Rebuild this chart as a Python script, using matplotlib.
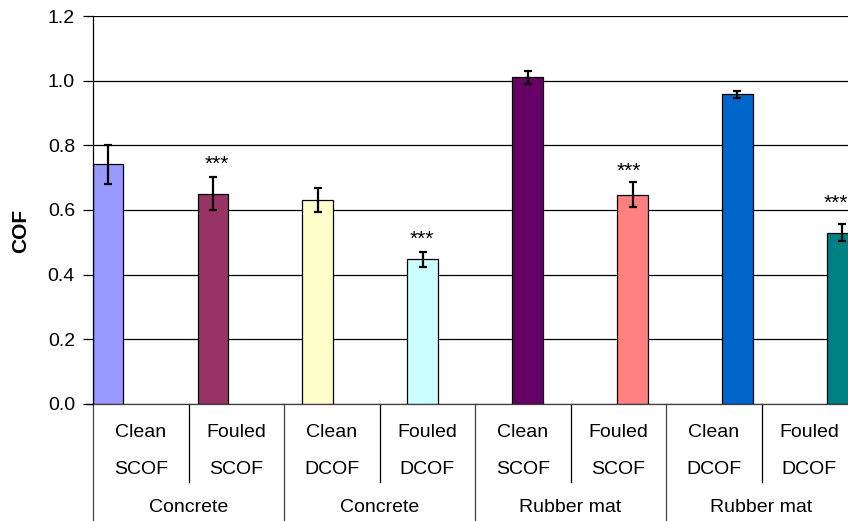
import numpy as np
import matplotlib.pyplot as plt
from matplotlib.transforms import blended_transform_factory

plt.rcdefaults()
plt.rc('font', family=['Liberation Sans', 'DejaVu Sans'], size=14)

# DATA
conditions = ['Clean', 'Fouled', 'Clean', 'Fouled', 'Clean', 'Fouled', 'Clean', 'Fouled']
measures = ['SCOF', 'SCOF', 'DCOF', 'DCOF', 'SCOF', 'SCOF', 'DCOF', 'DCOF']
surfaces = ['Concrete', 'Concrete', 'Rubber mat', 'Rubber mat']
cof = [0.741, 0.651, 0.631, 0.447, 1.011, 0.648, 0.958, 0.530]
cof_err = [0.060, 0.052, 0.038, 0.023, 0.021, 0.040, 0.011, 0.027]
signif = ['', '***', '', '***', '', '***', '', '***']
signif_y = [0, 0.742, 0, 0.509, 0, 0.721, 0, 0.622]
colors = ['#9999FF', '#993366', '#FFFFCC', '#CCFFFF',
          '#660066', '#FF8080', '#0066CC', '#008080']

# FIGURE
W, H = 848, 521
fig = plt.figure(figsize=[W/100, H/100], dpi=100)
ax_l, ax_r, ax_b, ax_t = 93, 857, 403.7, 16.3
ax = fig.add_axes([ax_l/W, 1-ax_b/H, (ax_r-ax_l)/W, (ax_b-ax_t)/H])

# bars sit on their own pitch, not on the label cells
bar_pitch = 104.9
first_center = 108
x = np.arange(len(cof))
ax.set_xlim((ax_l-first_center)/bar_pitch, (ax_r-first_center)/bar_pitch)
ax.set_ylim(0, 1.2)

ax.set_axisbelow(True)
ax.yaxis.grid(True, color='black', linewidth=0.9)
ax.bar(x, cof, width=30.7/bar_pitch, color=colors, edgecolor='black', linewidth=0.9,
       yerr=cof_err, error_kw=dict(ecolor='black', elinewidth=1.6, capsize=3, capthick=1.6))
# stars drift a little left of the bars going right
star_dx = [0, 0.035, 0, -0.008, 0, -0.032, 0, -0.065]
for xi, s, sy, dx in zip(x, signif, signif_y, star_dx):
    if s:
        ax.text(xi + dx, sy, s, ha='center', va='center', fontsize=15)

ax.set_yticks(np.arange(0, 1.21, 0.2))
ax.set_yticklabels([f'{v:.1f}' for v in np.arange(0, 1.21, 0.2)])
ax.tick_params(axis='y', length=7, width=0.9, pad=6)
ax.set_xticks([])
for sp in ['top', 'right']:
    ax.spines[sp].set_visible(False)
ax.spines['left'].set_linewidth(0.9)
ax.spines['bottom'].set_linewidth(0.9)
ax.spines['bottom'].set_color('#404040')

fig.text(21/W, 1-231/H, 'COF', rotation=90, ha='center', va='center',
         fontsize=15, fontweight='bold')

# CATEGORY TABLE BELOW AXIS
tr = blended_transform_factory(ax.transAxes, fig.transFigure)
n = len(conditions)
y_axis = 1-ax_b/H
y_sub = 1-481.7/H
# left extension of x axis line
fig.add_artist(plt.Line2D([86/W, ax_l/W], [y_axis, y_axis], color='black', linewidth=0.9))
for k in range(n + 1):
    if k % 2 == 0:
        ax.plot([k/n, k/n], [y_axis, 0], transform=tr, color='#404040',
                linewidth=0.9, clip_on=False)
    else:
        ax.plot([k/n, k/n], [y_axis, y_sub], transform=tr, color='black',
                linewidth=0.9, clip_on=False)
for k in range(n):
    xc = (k + 0.5)/n
    ax.text(xc, 1-432.3/H, conditions[k], transform=tr, ha='center', va='center')
    ax.text(xc, 1-469.3/H, measures[k], transform=tr, ha='center', va='center')
for g, name in enumerate(surfaces):
    ax.text((2*g + 1)/n, 1-507.7/H, name, transform=tr, ha='center', va='center')

# SAVING
fig.savefig('out.png', dpi=100)
